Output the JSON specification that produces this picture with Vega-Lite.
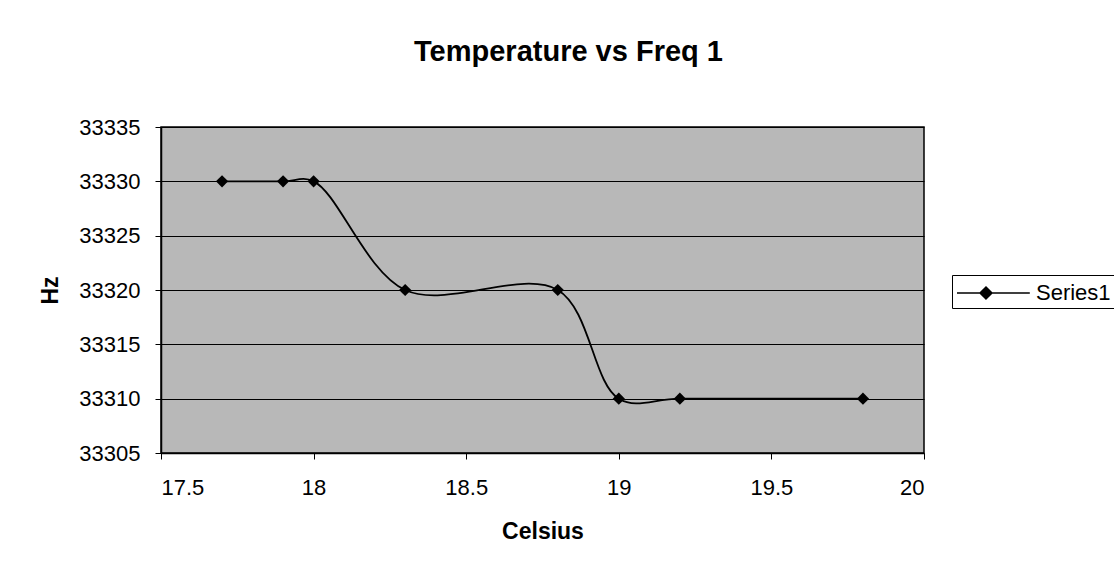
{
  "$schema": "https://vega.github.io/schema/vega-lite/v6.json",
  "width": 763,
  "height": 326,
  "autosize": {"type": "none"},
  "padding": {"left": 161, "top": 127, "right": 190, "bottom": 117},
  "background": "white",
  "title": {
    "text": "Temperature vs Freq 1",
    "font": "Liberation Sans",
    "fontSize": 29,
    "fontWeight": "bold",
    "color": "black",
    "anchor": "middle",
    "frame": "group",
    "dx": 26,
    "offset": 49
  },
  "config": {
    "view": {"fill": "#b8b8b8", "stroke": "black", "strokeWidth": 1.5},
    "font": "Liberation Sans"
  },
  "data": {
    "values": [
      {"celsius": 17.7, "hz": 33330, "series": "Series1"},
      {"celsius": 17.9, "hz": 33330, "series": "Series1"},
      {"celsius": 18.0, "hz": 33330, "series": "Series1"},
      {"celsius": 18.3, "hz": 33320, "series": "Series1"},
      {"celsius": 18.8, "hz": 33320, "series": "Series1"},
      {"celsius": 19.0, "hz": 33310, "series": "Series1"},
      {"celsius": 19.2, "hz": 33310, "series": "Series1"},
      {"celsius": 19.8, "hz": 33310, "series": "Series1"}
    ]
  },
  "encoding": {
    "x": {
      "field": "celsius",
      "type": "quantitative",
      "scale": {"domain": [17.5, 20], "nice": false, "zero": false},
      "axis": {
        "title": "Celsius",
        "values": [17.5, 18, 18.5, 19, 19.5, 20],
        "format": "~g",
        "grid": false,
        "domainColor": "black",
        "domainWidth": 1.5,
        "tickColor": "black",
        "tickSize": 6,
        "labelFont": "Liberation Sans",
        "labelFontSize": 22,
        "labelColor": "black",
        "labelPadding": 18,
        "titleFont": "Liberation Sans",
        "titleFontSize": 23,
        "titleFontWeight": "bold",
        "titleColor": "black",
        "titlePadding": 22
      }
    },
    "y": {
      "field": "hz",
      "type": "quantitative",
      "scale": {"domain": [33305, 33335], "nice": false, "zero": false},
      "axis": {
        "title": "Hz",
        "values": [33305, 33310, 33315, 33320, 33325, 33330, 33335],
        "format": "d",
        "grid": true,
        "gridColor": "black",
        "gridWidth": 1,
        "gridOpacity": 1,
        "domainColor": "black",
        "domainWidth": 1.5,
        "tickColor": "black",
        "tickSize": 6,
        "labelFont": "Liberation Sans",
        "labelFontSize": 22,
        "labelColor": "black",
        "labelPadding": 15,
        "titleFont": "Liberation Sans",
        "titleFontSize": 23,
        "titleFontWeight": "bold",
        "titleColor": "black",
        "titlePadding": 16
      }
    },
    "color": {
      "field": "series",
      "type": "nominal",
      "scale": {"range": ["black"]},
      "legend": {
        "title": null,
        "orient": "none",
        "legendX": 791,
        "legendY": 148,
        "strokeColor": "black",
        "padding": 4,
        "fillColor": "white",
        "symbolType": "M-1,0H4.6M1.23,-0.46L1.69,0L1.23,0.46L0.77,0Z",
        "symbolSize": 676,
        "symbolStrokeWidth": 1.5,
        "symbolFillColor": "black",
        "symbolStrokeColor": "black",
        "labelFont": "Liberation Sans",
        "labelFontSize": 22,
        "labelColor": "black",
        "labelOffset": 52
      }
    }
  },
  "layer": [
    {
      "mark": {"type": "line", "interpolate": "catmull-rom", "strokeWidth": 1.8}
    },
    {
      "mark": {"type": "point", "shape": "diamond", "filled": true, "size": 150, "opacity": 1}
    }
  ]
}
